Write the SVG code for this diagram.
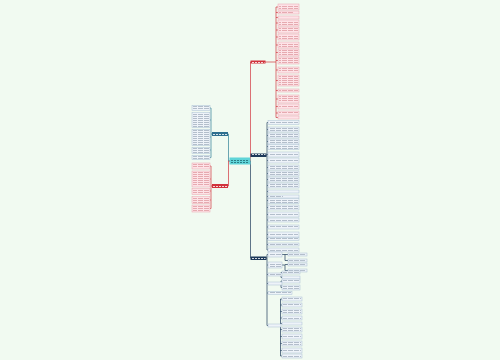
<svg xmlns="http://www.w3.org/2000/svg" width="500" height="360" viewBox="0 0 500 360">
<defs>
<pattern id="ptx" width="6" height="2" patternUnits="userSpaceOnUse"><rect x="0" y="0" width="5" height="1" fill="#c2545c" opacity="0.4"/></pattern>
<pattern id="btx" width="6" height="2" patternUnits="userSpaceOnUse"><rect x="0" y="0" width="5" height="1" fill="#5b6f86" opacity="0.4"/></pattern>
<pattern id="wtx" width="3" height="2" patternUnits="userSpaceOnUse"><rect x="0" y="0" width="2" height="1" fill="#ffffff" opacity="0.8"/></pattern>
<pattern id="ctx" width="3" height="2" patternUnits="userSpaceOnUse"><rect x="0" y="0" width="2" height="1" fill="#1d6b74" opacity="0.8"/></pattern>
</defs>
<style>
.pk{fill:#fde3e7;stroke:#eba4ae;stroke-width:0.5}
.bl{fill:#eef3f9;stroke:#aabfd3;stroke-width:0.5}
.pt{fill:url(#ptx)}
.bt{fill:url(#btx)}
.cr{fill:none;stroke:#d1333d;stroke-width:0.7}
.cn{fill:none;stroke:#1e3a5a;stroke-width:0.7}
.ct{fill:none;stroke:#2f7f95;stroke-width:0.7}
</style>
<rect width="500" height="360" fill="#f1faf1"/>

<g id="connectors">
<path class="ct" d="M230,161 H228.5 V134 H228"/>
<path class="cr" d="M230,161 H228.5 V186 H228"/>
<path class="cr" d="M250,161 H250.5 V62 H251"/>
<path class="cn" d="M250,161 H250.5 V258 H251"/>
<path class="ct" d="M212,134 H211 M211,108 V157.5 M211,108 H210 M211,120 H210 M211,137 H210 M211,150 H210 M211,157.5 H210"/>
<path class="cr" d="M212,186 H211 M211,166 V208.5 M211,166 H210 M211,179 H210 M211,191 H210 M211,200 H210 M211,208.5 H210"/>
<path class="cr" d="M265,62 H276 M276,7 V117.5 M276,7 H278 M276,12.5 H278 M276,17.5 H278 M276,23 H278 M276,30 H278 M276,37 H278 M276,45 H278 M276,52.5 H278 M276,60.5 H278 M276,70 H278 M276,80.5 H278 M276,90.5 H278 M276,99 H278 M276,106.5 H278 M276,113 H278 M276,117.5 H278"/>
<path class="cn" d="M266,155 H267 M267,122.5 V250 M267,122.5 H268 M267,129.5 H268 M267,135.5 H268 M267,141.5 H268 M267,146.5 H268 M267,154.5 H268 M267,160.5 H268 M267,167.5 H268 M267,173.5 H268 M267,179.5 H268 M267,185.5 H268 M267,191.5 H268 M267,196.5 H268 M267,200.5 H268 M267,207.5 H268 M267,214.5 H268 M267,220 H268 M267,227 H268 M267,234.5 H268 M267,238.5 H268 M267,244.5 H268 M267,250 H268"/>
<path class="cn" d="M266,258 H267 M267,254.5 V325.5 M267,254.5 H268 M267,265 H268 M267,274.5 H268 M267,283.5 H268 M267,293 H268 M267,325.5 H268"/>
<path class="cn" d="M282,254.5 H285 V260.5 H288 M285,254.5 H288 M282,265 H285 V270.5 H288 M285,264.5 H288 M282,274.5 H281 M281,272.5 V277.5 M281,272.5 H282 M281,277.5 H282 M282,283.5 H281 M281,281 V287.5 M281,281 H282 M281,287.5 H282 M281,325.5 H280.5 M280.5,299 V356 M280.5,299 H282 M280.5,305 H282 M280.5,311.5 H282 M280.5,318 H282 M280.5,323.5 H282 M280.5,329.5 H282 M280.5,336.5 H282 M280.5,343.5 H282 M280.5,350.5 H282 M280.5,356 H282"/>
</g>

<g id="center"><rect x="229.5" y="157.5" width="21" height="7" fill="#5fd4d8"/><rect x="231" y="159" width="18" height="4" fill="url(#ctx)"/></g>
<g id="left-up"><rect x="212" y="132" width="16" height="4" fill="#2f6f8f"/><rect x="213" y="133" width="14" height="2" fill="url(#wtx)"/></g>
<g id="left-down"><rect x="212" y="184" width="16" height="4" fill="#d1333d"/><rect x="213" y="185" width="14" height="2" fill="url(#wtx)"/></g>
<g id="right-red"><rect x="250.5" y="60.5" width="15" height="3" fill="#d1333d"/><rect x="251.5" y="61" width="13" height="2" fill="url(#wtx)"/></g>
<g id="right-mid"><rect x="250.5" y="153.5" width="16" height="3.5" fill="#1e3a5a"/><rect x="251.5" y="154" width="14" height="2" fill="url(#wtx)"/></g>
<g id="right-low"><rect x="250.5" y="256.5" width="16" height="3.5" fill="#1e3a5a"/><rect x="251.5" y="257" width="14" height="2" fill="url(#wtx)"/></g>

<g id="left-blue-leaves">
<g id="lb1"><rect class="bl" x="192" y="105.5" width="18" height="5"/><rect class="bt" x="193" y="106" width="16" height="4"/></g>
<g id="lb2"><rect class="bl" x="192" y="112.5" width="18" height="15"/><rect class="bt" x="193" y="113" width="16" height="14"/></g>
<g id="lb3"><rect class="bl" x="192" y="129.5" width="18" height="16"/><rect class="bt" x="193" y="130" width="16" height="15"/></g>
<g id="lb4"><rect class="bl" x="192" y="147.5" width="18" height="6"/><rect class="bt" x="193" y="148" width="16" height="5"/></g>
<g id="lb5"><rect class="bl" x="192" y="155.5" width="18" height="4"/><rect class="bt" x="193" y="156" width="16" height="3"/></g>
</g>
<g id="left-pink-leaves">
<g id="lp1"><rect class="pk" x="192" y="163" width="18" height="6"/><rect class="pt" x="193" y="164" width="16" height="4"/></g>
<g id="lp2"><rect class="pk" x="192" y="171" width="18" height="16"/><rect class="pt" x="193" y="172" width="16" height="14"/></g>
<g id="lp3"><rect class="pk" x="192" y="188.5" width="18" height="6"/><rect class="pt" x="193" y="189" width="16" height="5"/></g>
<g id="lp4"><rect class="pk" x="192" y="196.5" width="18" height="7"/><rect class="pt" x="193" y="197" width="16" height="6"/></g>
<g id="lp5"><rect class="pk" x="192" y="205" width="18" height="7"/><rect class="pt" x="193" y="206" width="16" height="5"/></g>
</g>

<g id="right-red-leaves">
<g id="r1"><rect class="pk" x="278" y="4" width="21" height="6"/><rect class="pt" x="279" y="5" width="19" height="4"/></g>
<g id="r2"><rect class="pk" x="278" y="11" width="21" height="3"/><rect class="pt" x="279" y="12" width="15" height="1"/></g>
<g id="r3"><rect class="pk" x="278" y="16" width="21" height="3"/><rect class="pt" x="279" y="17" width="8" height="1"/></g>
<g id="r4"><rect class="pk" x="278" y="20" width="21" height="6"/><rect class="pt" x="279" y="21" width="19" height="4"/></g>
<g id="r5"><rect class="pk" x="278" y="27" width="21" height="6"/><rect class="pt" x="279" y="28" width="19" height="4"/></g>
<g id="r6"><rect class="pk" x="278" y="34" width="21" height="6"/><rect class="pt" x="279" y="35" width="19" height="4"/></g>
<g id="r7"><rect class="pk" x="278" y="42" width="21" height="6"/><rect class="pt" x="279" y="43" width="19" height="4"/></g>
<g id="r8"><rect class="pk" x="278" y="49" width="21" height="7"/><rect class="pt" x="279" y="50" width="19" height="5"/></g>
<g id="r9"><rect class="pk" x="278" y="57" width="21" height="7"/><rect class="pt" x="279" y="58" width="19" height="5"/></g>
<g id="r10"><rect class="pk" x="278" y="67" width="21" height="6"/><rect class="pt" x="279" y="68" width="19" height="4"/></g>
<g id="r11"><rect class="pk" x="278" y="75" width="21" height="11"/><rect class="pt" x="279" y="76" width="19" height="9"/></g>
<g id="r12"><rect class="pk" x="278" y="89" width="21" height="3"/><rect class="pt" x="279" y="90" width="19" height="1"/></g>
<g id="r13"><rect class="pk" x="278" y="95" width="21" height="8"/><rect class="pt" x="279" y="96" width="19" height="6"/></g>
<g id="r14"><rect class="pk" x="278" y="104" width="21" height="5"/><rect class="pt" x="279" y="105" width="19" height="3"/></g>
<g id="r15"><rect class="pk" x="278" y="111" width="21" height="4"/><rect class="pt" x="279" y="112" width="19" height="2"/></g>
<g id="r16"><rect class="pk" x="278" y="116" width="21" height="3"/><rect class="pt" x="279" y="117" width="7" height="1"/></g>
</g>

<g id="right-mid-leaves">
<g id="m1"><rect class="bl" x="268" y="120.5" width="31" height="4"/><rect class="bt" x="269" y="121" width="29" height="3"/></g>
<g id="m2"><rect class="bl" x="268" y="127" width="31" height="5"/><rect class="bt" x="269" y="128" width="29" height="3"/></g>
<g id="m3"><rect class="bl" x="268" y="133" width="31" height="5"/><rect class="bt" x="269" y="134" width="29" height="3"/></g>
<g id="m4"><rect class="bl" x="268" y="139" width="31" height="5"/><rect class="bt" x="269" y="140" width="29" height="3"/></g>
<g id="m5"><rect class="bl" x="268" y="144.5" width="31" height="5"/><rect class="bt" x="269" y="145" width="29" height="4"/></g>
<g id="m6"><rect class="bl" x="268" y="152" width="31" height="5"/><rect class="bt" x="269" y="153" width="29" height="3"/></g>
<g id="m7"><rect class="bl" x="268" y="158" width="31" height="5"/><rect class="bt" x="269" y="159" width="29" height="3"/></g>
<g id="m8"><rect class="bl" x="268" y="165" width="31" height="5"/><rect class="bt" x="269" y="166" width="29" height="3"/></g>
<g id="m9"><rect class="bl" x="268" y="171" width="31" height="5"/><rect class="bt" x="269" y="172" width="29" height="3"/></g>
<g id="m10"><rect class="bl" x="268" y="177" width="31" height="5"/><rect class="bt" x="269" y="178" width="29" height="3"/></g>
<g id="m11"><rect class="bl" x="268" y="183" width="31" height="5"/><rect class="bt" x="269" y="184" width="29" height="3"/></g>
<g id="m12"><rect class="bl" x="268" y="190" width="31" height="3"/><rect class="bt" x="269" y="191" width="18" height="1"/></g>
<g id="m13"><rect class="bl" x="268" y="195" width="31" height="3"/><rect class="bt" x="269" y="196" width="14" height="1"/></g>
<g id="m14"><rect class="bl" x="268" y="198.5" width="31" height="5"/><rect class="bt" x="269" y="199" width="29" height="4"/></g>
<g id="m15"><rect class="bl" x="268" y="205" width="31" height="5"/><rect class="bt" x="269" y="206" width="29" height="3"/></g>
<g id="m16"><rect class="bl" x="268" y="212" width="31" height="5"/><rect class="bt" x="269" y="213" width="29" height="3"/></g>
<g id="m17"><rect class="bl" x="268" y="218" width="31" height="4"/><rect class="bt" x="269" y="219" width="29" height="2"/></g>
<g id="m18"><rect class="bl" x="268" y="225" width="31" height="4"/><rect class="bt" x="269" y="226" width="29" height="2"/></g>
<g id="m19"><rect class="bl" x="268" y="232" width="31" height="5"/><rect class="bt" x="269" y="233" width="29" height="3"/></g>
<g id="m20"><rect class="bl" x="268" y="237.5" width="31" height="3"/><rect class="bt" x="269" y="238" width="29" height="2"/></g>
<g id="m21"><rect class="bl" x="268" y="243" width="31" height="3"/><rect class="bt" x="269" y="244" width="29" height="1"/></g>
<g id="m22"><rect class="bl" x="268" y="248" width="31" height="4"/><rect class="bt" x="269" y="249" width="29" height="2"/></g>
</g>

<g id="right-low-leaves">
<g id="g1p"><rect class="bl" x="268" y="252" width="14" height="5"/><rect class="bt" x="269" y="253" width="12" height="3"/></g>
<g id="g1a"><rect class="bl" x="288" y="253" width="19" height="3"/><rect class="bt" x="289" y="254" width="17" height="1"/></g>
<g id="g1b"><rect class="bl" x="288" y="259" width="19" height="3"/><rect class="bt" x="289" y="260" width="17" height="1"/></g>
<g id="g2p"><rect class="bl" x="268" y="262" width="14" height="6"/><rect class="bt" x="269" y="263" width="12" height="4"/></g>
<g id="g2a"><rect class="bl" x="288" y="263" width="19" height="3"/><rect class="bt" x="289" y="264" width="17" height="1"/></g>
<g id="g2b"><rect class="bl" x="288" y="269" width="19" height="3"/><rect class="bt" x="289" y="270" width="17" height="1"/></g>
<g id="g3p"><rect class="bl" x="268" y="273" width="14" height="3"/><rect class="bt" x="269" y="274" width="12" height="1"/></g>
<g id="g3a"><rect class="bl" x="282" y="271" width="18" height="3"/><rect class="bt" x="283" y="272" width="16" height="1"/></g>
<g id="g3b"><rect class="bl" x="282" y="276" width="18" height="3"/><rect class="bt" x="283" y="277" width="16" height="1"/></g>
<g id="g4p"><rect class="bl" x="268" y="282" width="14" height="3"/><rect class="bt" x="269" y="283" width="12" height="1"/></g>
<g id="g4a"><rect class="bl" x="282" y="279" width="18" height="4"/><rect class="bt" x="283" y="280" width="16" height="2"/></g>
<g id="g4b"><rect class="bl" x="282" y="285" width="18" height="5"/><rect class="bt" x="283" y="286" width="16" height="3"/></g>
<g id="g5"><rect class="bl" x="268" y="291.5" width="24" height="3"/><rect class="bt" x="269" y="292" width="22" height="1"/></g>
<g id="g6p"><rect class="bl" x="268" y="324" width="13" height="3"/><rect class="bt" x="269" y="325" width="11" height="1"/></g>
<g id="g6a"><rect class="bl" x="282" y="297" width="20" height="4"/><rect class="bt" x="283" y="298" width="18" height="2"/></g>
<g id="g6b"><rect class="bl" x="282" y="303" width="20" height="4"/><rect class="bt" x="283" y="304" width="18" height="2"/></g>
<g id="g6c"><rect class="bl" x="282" y="309" width="20" height="5"/><rect class="bt" x="283" y="310" width="18" height="3"/></g>
<g id="g6d"><rect class="bl" x="282" y="316" width="20" height="4"/><rect class="bt" x="283" y="317" width="18" height="2"/></g>
<g id="g6e"><rect class="bl" x="282" y="322" width="20" height="3"/><rect class="bt" x="283" y="323" width="8" height="1"/></g>
<g id="g6f"><rect class="bl" x="282" y="327" width="20" height="5"/><rect class="bt" x="283" y="328" width="18" height="3"/></g>
<g id="g6g"><rect class="bl" x="282" y="334" width="20" height="5"/><rect class="bt" x="283" y="335" width="18" height="3"/></g>
<g id="g6h"><rect class="bl" x="282" y="341" width="20" height="5"/><rect class="bt" x="283" y="342" width="18" height="3"/></g>
<g id="g6i"><rect class="bl" x="282" y="348" width="20" height="5"/><rect class="bt" x="283" y="349" width="18" height="3"/></g>
<g id="g6j"><rect class="bl" x="282" y="354" width="20" height="4"/><rect class="bt" x="283" y="355" width="18" height="2"/></g>
</g>
</svg>
